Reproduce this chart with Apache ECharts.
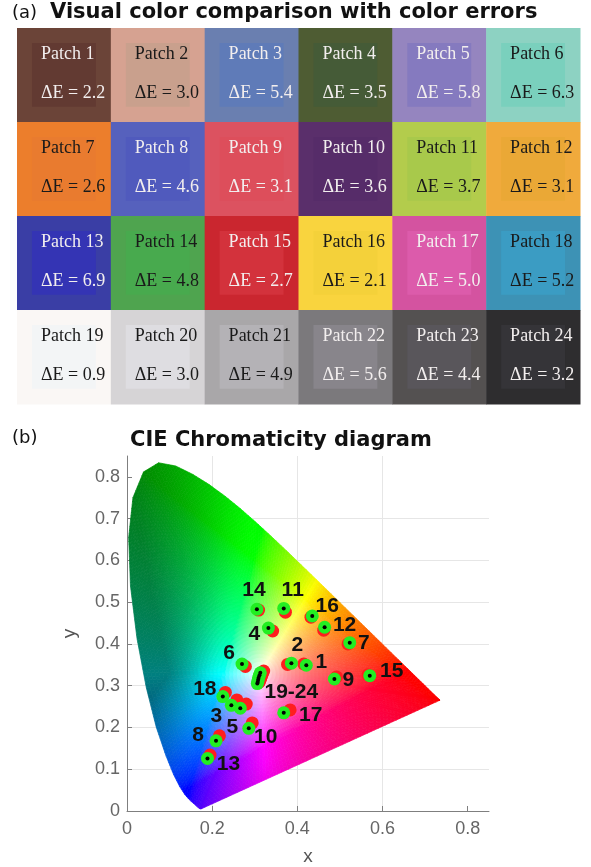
<!DOCTYPE html>
<html>
<head>
<meta charset="utf-8">
<script src="https://cdn.jsdelivr.net/npm/echarts@6/dist/echarts.min.js"></script>
<style>
  html, body { margin: 0; padding: 0; background: #fff; }
  #chart { width: 591px; height: 867px; }
</style>
</head>
<body>
<div id="chart"></div>
<script>
// ---- (a) colour patches ----
const patchIds = [1, 2, 3, 4, 5, 6, 7, 8, 9, 10, 11, 12, 13, 14, 15, 16, 17, 18, 19, 20, 21, 22, 23, 24];
const deltaE = [2.2, 3.0, 5.4, 3.5, 5.8, 6.3, 2.6, 4.6, 3.1, 3.6, 3.7, 3.1,
                6.9, 4.8, 2.7, 2.1, 5.0, 5.2, 0.9, 3.0, 4.9, 5.6, 4.4, 3.2];
const targetColors = ['#6b4438', '#d6a291', '#6a7fb0', '#4e5c33', '#9585bf', '#8dd2c2',
                      '#ec7e2c', '#5661bd', '#dc5260', '#5a2f6b', '#b3cc4c', '#f0aa3c',
                      '#3a3ea5', '#4fa44f', '#ca262f', '#f9d43e', '#d453a0', '#3d92b5',
                      '#faf7f5', '#d6d4d6', '#a9a7a9', '#7b797c', '#545151', '#2e2d2f'];
const reproducedColors = ['#623a32', '#c9a08d', '#5f7bb8', '#455b37', '#857abf', '#7ad0bd',
                          '#e97b2f', '#505abd', '#dd4e5b', '#562c69', '#a8c94b', '#eaa836',
                          '#3434b4', '#48aa4e', '#d3323c', '#f4d13a', '#dc5bab', '#3b9cc3',
                          '#f3f5f6', '#dedde1', '#b4b2b6', '#88858b', '#59565b', '#353438'];

// ---- (b) chromaticity ----
// CIE 1931 2° spectral locus, 380–700 nm in 5 nm steps
const locusX = [0.1741, 0.1740, 0.1738, 0.1736, 0.1733, 0.1730, 0.1726, 0.1721, 0.1714, 0.1703,
                0.1689, 0.1669, 0.1644, 0.1611, 0.1566, 0.1510, 0.1440, 0.1355, 0.1241, 0.1096,
                0.0913, 0.0687, 0.0454, 0.0235, 0.0082, 0.0039, 0.0139, 0.0389, 0.0743, 0.1142,
                0.1547, 0.1929, 0.2296, 0.2658, 0.3016, 0.3373, 0.3731, 0.4087, 0.4441, 0.4788,
                0.5125, 0.5448, 0.5752, 0.6029, 0.6270, 0.6482, 0.6658, 0.6801, 0.6915, 0.7006,
                0.7079, 0.7140, 0.7190, 0.7230, 0.7260, 0.7283, 0.7300, 0.7311, 0.7320, 0.7327,
                0.7334, 0.7340, 0.7344, 0.7346, 0.7347];
const locusY = [0.0050, 0.0050, 0.0049, 0.0049, 0.0048, 0.0048, 0.0048, 0.0048, 0.0051, 0.0058,
                0.0069, 0.0086, 0.0109, 0.0138, 0.0177, 0.0227, 0.0297, 0.0399, 0.0578, 0.0868,
                0.1327, 0.2007, 0.2950, 0.4127, 0.5384, 0.6548, 0.7502, 0.8120, 0.8338, 0.8262,
                0.8059, 0.7816, 0.7543, 0.7243, 0.6923, 0.6589, 0.6245, 0.5896, 0.5547, 0.5202,
                0.4866, 0.4544, 0.4242, 0.3965, 0.3725, 0.3514, 0.3340, 0.3197, 0.3083, 0.2993,
                0.2920, 0.2859, 0.2809, 0.2770, 0.2740, 0.2717, 0.2700, 0.2689, 0.2680, 0.2673,
                0.2666, 0.2660, 0.2656, 0.2654, 0.2653];
const whitePoint = [0.3127, 0.3290];

// patch chromaticities: target (red) and measured (green)
const targetX = [0.415, 0.377, 0.258, 0.342, 0.280, 0.278, 0.519, 0.217, 0.492, 0.294, 0.372, 0.462,
                 0.195, 0.309, 0.566, 0.432, 0.383, 0.231, 0.321, 0.318, 0.316, 0.314, 0.312, 0.310];
const targetY = [0.352, 0.351, 0.266, 0.431, 0.256, 0.346, 0.400, 0.180, 0.321, 0.211, 0.476, 0.433,
                 0.134, 0.481, 0.326, 0.464, 0.242, 0.284, 0.335, 0.329, 0.323, 0.318, 0.312, 0.308];
const measuredX = [0.421, 0.386, 0.245, 0.332, 0.266, 0.270, 0.523, 0.209, 0.487, 0.286, 0.368, 0.464,
                   0.189, 0.305, 0.570, 0.435, 0.368, 0.225, 0.313, 0.311, 0.309, 0.308, 0.307, 0.306];
const measuredY = [0.349, 0.354, 0.253, 0.438, 0.246, 0.352, 0.403, 0.168, 0.316, 0.198, 0.485, 0.440,
                   0.126, 0.483, 0.324, 0.467, 0.235, 0.274, 0.331, 0.325, 0.319, 0.314, 0.309, 0.305];
const pointLabels = ['1', '2', '3', '4', '5', '6', '7', '8', '9', '10', '11', '12',
                     '13', '14', '15', '16', '17', '18', '19-24', '', '', '', '', ''];
const xTicks = [0, 0.2, 0.4, 0.6, 0.8];
const yTicks = [0, 0.1, 0.2, 0.3, 0.4, 0.5, 0.6, 0.7, 0.8];

// ---- styling ----
const lightText = '#f2eeee', darkText = '#1a1a1a';
const patchTone = ['L', 'D', 'L', 'L', 'L', 'D', 'D', 'L', 'L', 'L', 'D', 'D',
                   'L', 'D', 'L', 'D', 'L', 'D', 'D', 'D', 'D', 'L', 'L', 'L'];
const labelOffsets = {
  1: [15, -3], 2: [6, -18], 3: [-15, 11], 4: [-14, 6], 5: [-8, 19], 6: [-13, -11],
  7: [14, 1], 8: [-18, -6], 9: [14, 1], 10: [17, 9], 11: [9, -18], 12: [20, -2],
  13: [21, 6], 14: [-3, -19], 15: [22, -4], 16: [15, -10], 17: [27, 2], 18: [-18, -7],
  19: [31, 19]
};
const SERIF = '"Liberation Serif", "Times New Roman", serif';
const SANS = '"DejaVu Sans", "Liberation Sans", sans-serif';
const ARIAL = '"Liberation Sans", Arial, sans-serif';

// xy chromaticity -> display colour (strongly out-of-gamut regions shaded darker)
function chromaColor(x, y) {
  const X = x / y, Y = 1, Z = (1 - x - y) / y;
  const r = 3.2406 * X - 1.5372 * Y - 0.4986 * Z;
  const g = -0.9689 * X + 1.8758 * Y + 0.0415 * Z;
  const b = 0.0557 * X - 0.2040 * Y + 1.0570 * Z;
  const mx = Math.max(r, g, b);
  const neg = -Math.min(r, g, b, 0) / mx;
  const shade = Math.max(0.5, 1 / (1 + 1.3 * neg * neg));
  const enc = v => {
    v = Math.max(v, 0) / mx;
    v = Math.pow(v, 0.625);
    return Math.round(255 * Math.min(1, v) * shade);
  };
  return 'rgb(' + enc(r) + ',' + enc(g) + ',' + enc(b) + ')';
}

// each locus segment (and the closing purple line) is filled as a fan from the white point
function renderGamut(params, api) {
  const n = locusX.length;
  const i = params.dataIndex, j = (i + 1) % n;
  const a = [locusX[i], locusY[i]], b = [locusX[j], locusY[j]];
  const pw = api.coord(whitePoint), pa = api.coord(a), pb = api.coord(b);
  const segLen = Math.hypot(pb[0] - pa[0], pb[1] - pa[1]);
  const m = Math.max(1, Math.ceil(segLen / 4));
  const lerp = (p, q, t) => [p[0] + (q[0] - p[0]) * t, p[1] + (q[1] - p[1]) * t];
  const children = [];
  for (let k = 0; k < m; k++) {
    const e0 = lerp(pa, pb, k / m), e1 = lerp(pa, pb, (k + 1) / m);
    const dm = lerp(a, b, (k + 0.5) / m);
    const rad = Math.max(Math.hypot(e0[0] - pw[0], e0[1] - pw[1]), Math.hypot(e1[0] - pw[0], e1[1] - pw[1]));
    const bands = Math.max(2, Math.ceil(rad / 4));
    for (let q = 0; q < bands; q++) {
      const t0 = q / bands, t1 = (q + 1) / bands;
      const c = lerp(whitePoint, dm, (t0 + t1) / 2);
      const col = chromaColor(c[0], c[1]);
      children.push({
        type: 'polygon',
        shape: { points: [lerp(pw, e0, t0), lerp(pw, e1, t0), lerp(pw, e1, t1), lerp(pw, e0, t1)] },
        style: { fill: col, stroke: col, lineWidth: 0.7 }
      });
    }
  }
  return { type: 'group', children: children };
}

function renderPatch(params, api) {
  const i = params.dataIndex;
  const col = api.value(0), row = api.value(1);
  const p0 = api.coord([col, row]);
  const p1 = api.coord([col + 1, row + 1]);
  const w = p1[0] - p0[0], h = p1[1] - p0[1];
  const u = w / 94;
  const fg = patchTone[i] === 'L' ? lightText : darkText;
  return {
    type: 'group',
    children: [
      { type: 'rect', shape: { x: p0[0], y: p0[1], width: w + 0.5, height: h + 0.5 },
        style: { fill: targetColors[i] } },
      { type: 'rect', shape: { x: p0[0] + 15 * u, y: p0[1] + 15 * u, width: 64 * u, height: 64 * u },
        style: { fill: reproducedColors[i] } },
      { type: 'text', style: { text: 'Patch ' + patchIds[i], x: p0[0] + 24 * u, y: p0[1] + 26 * u,
        fill: fg, font: '18px ' + SERIF, verticalAlign: 'middle', align: 'left' } },
      { type: 'text', style: { text: '\u0394E = ' + deltaE[i].toFixed(1), x: p0[0] + 24 * u, y: p0[1] + 65 * u,
        fill: fg, font: '18px ' + SERIF, verticalAlign: 'middle', align: 'left' } }
    ]
  };
}

const tickFmt = list => v => list.some(t => Math.abs(t - v) < 1e-6) ? String(+v.toFixed(1)) : '';

const chart = echarts.init(document.getElementById('chart'), null, { renderer: 'canvas' });
chart.setOption({
  animation: false,
  backgroundColor: '#ffffff',
  graphic: [
    { type: 'text', style: { text: '(a)', x: 12, y: 13, font: '18px ' + SANS, fill: '#111', verticalAlign: 'middle' } },
    { type: 'text', style: { text: 'Visual color comparison with color errors', x: 50, y: 13,
      font: 'bold 21px ' + SANS, fill: '#111', verticalAlign: 'middle' } },
    { type: 'text', style: { text: '(b)', x: 12, y: 438, font: '18px ' + SANS, fill: '#111', verticalAlign: 'middle' } },
    { type: 'text', style: { text: 'CIE Chromaticity diagram', x: 130, y: 441,
      font: 'bold 21px ' + SANS, fill: '#111', verticalAlign: 'middle' } }
  ],
  grid: [
    { left: 17, top: 28, width: 563, height: 376 },
    { left: 127, top: 456, width: 362, height: 361 }
  ],
  xAxis: [
    { gridIndex: 0, type: 'value', min: 0, max: 6, show: false },
    {
      gridIndex: 1, type: 'value', min: 0, max: 0.85, interval: 0.2,
      name: 'x', nameLocation: 'middle', nameGap: 36,
      nameTextStyle: { fontSize: 19, color: '#555', fontFamily: ARIAL },
      axisLine: { show: true, lineStyle: { color: '#7f7f7f', width: 1 } },
      axisTick: { show: true, inside: true, length: 5, customValues: xTicks, lineStyle: { color: '#7f7f7f' } },
      axisLabel: { fontSize: 18, color: '#666', fontFamily: ARIAL, margin: 9, customValues: xTicks, formatter: tickFmt(xTicks) },
      splitLine: { show: true, showMaxLine: false, lineStyle: { color: '#e6e6e6', width: 1 } }
    }
  ],
  yAxis: [
    { gridIndex: 0, type: 'value', min: 0, max: 4, inverse: true, show: false },
    {
      gridIndex: 1, type: 'value', min: 0, max: 0.85, interval: 0.1,
      name: 'y', nameLocation: 'middle', nameGap: 48, nameRotate: 90,
      nameTextStyle: { fontSize: 19, color: '#555', fontFamily: ARIAL },
      axisLine: { show: true, lineStyle: { color: '#7f7f7f', width: 1 } },
      axisTick: { show: true, inside: true, length: 5, customValues: yTicks, lineStyle: { color: '#7f7f7f' } },
      axisLabel: { fontSize: 18, color: '#666', fontFamily: ARIAL, margin: 7, customValues: yTicks, formatter: tickFmt(yTicks) },
      splitLine: { show: true, showMaxLine: false, lineStyle: { color: '#e6e6e6', width: 1 } }
    }
  ],
  series: [
    {
      type: 'custom', name: 'patches', xAxisIndex: 0, yAxisIndex: 0, silent: true,
      renderItem: renderPatch,
      data: patchIds.map((id, i) => [i % 6, Math.floor(i / 6)])
    },
    {
      type: 'custom', name: 'gamut', xAxisIndex: 1, yAxisIndex: 1, silent: true, clip: false,
      renderItem: renderGamut,
      data: locusX.map((x, i) => [x, locusY[i]])
    },
    {
      type: 'scatter', name: 'target', xAxisIndex: 1, yAxisIndex: 1, silent: true,
      symbol: 'circle', symbolSize: 13,
      itemStyle: { color: '#ff1e1e', opacity: 1 },
      data: targetX.map((x, i) => [x, targetY[i]])
    },
    {
      type: 'scatter', name: 'measured', xAxisIndex: 1, yAxisIndex: 1, silent: true,
      symbol: 'circle', symbolSize: 13,
      itemStyle: { color: '#22ee22', opacity: 1 },
      data: measuredX.map((x, i) => ({
        value: [x, measuredY[i]],
        label: {
          show: pointLabels[i] !== '',
          formatter: pointLabels[i],
          position: 'inside',
          offset: labelOffsets[i + 1] || [0, 0],
          fontSize: 21, fontWeight: 'bold', color: '#111', fontFamily: ARIAL
        }
      })),
      z: 3
    },
    {
      type: 'scatter', name: 'measured-centre', xAxisIndex: 1, yAxisIndex: 1, silent: true,
      symbol: 'circle', symbolSize: 4,
      itemStyle: { color: '#000', opacity: 1 },
      data: measuredX.map((x, i) => [x, measuredY[i]]),
      z: 4
    }
  ]
});
</script>
</body>
</html>
